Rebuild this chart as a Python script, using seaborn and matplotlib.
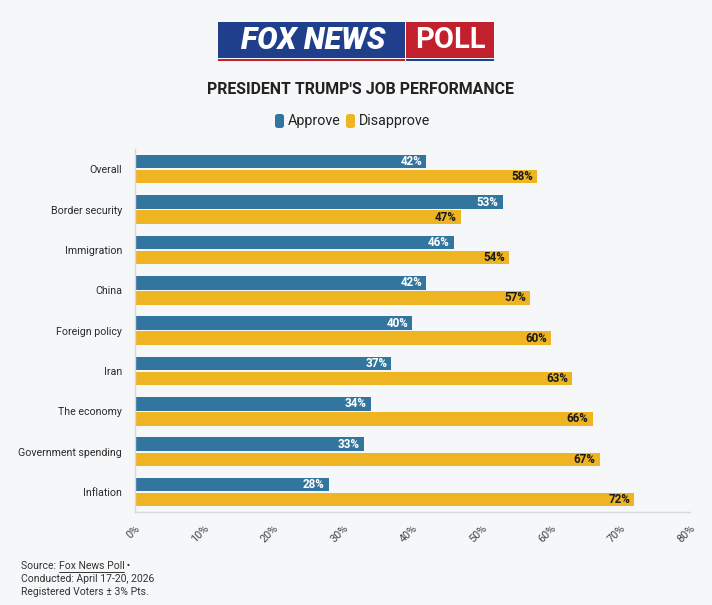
import matplotlib
matplotlib.use("Agg")
import matplotlib.pyplot as plt
from matplotlib.patches import Rectangle, FancyBboxPatch
import seaborn as sns
import pandas as pd

categories = ["Overall", "Border security", "Immigration", "China", "Foreign policy",
              "Iran", "The economy", "Government spending", "Inflation"]
approve = [42, 53, 46, 42, 40, 37, 34, 33, 28]
disapprove = [58, 47, 54, 57, 60, 63, 66, 67, 72]
series = ["Approve", "Disapprove"]
xticks = [0, 10, 20, 30, 40, 50, 60, 70, 80]

BG = "#F6F7F9"
BLUE = "#32769F"
YELLOW = "#EEB421"

df = pd.DataFrame({
    "category": categories * 2,
    "series": [series[0]] * len(categories) + [series[1]] * len(categories),
    "value": approve + disapprove,
})

sns.set_theme(style="white")
plt.rcParams["font.family"] = ["Roboto", "DejaVu Sans"]

W, H = 712, 605
fig = plt.figure(figsize=(7.12, 6.05), dpi=100, facecolor=BG)
ax = fig.add_axes([134.5 / W, 1 - 512.3 / H, (690 - 134.5) / W, (512.3 - 149) / H])
ax.set_facecolor(BG)

sns.barplot(data=df, y="category", x="value", hue="series", order=categories,
            hue_order=series, palette=[BLUE, YELLOW], orient="h", width=0.745,
            gap=0.1, ax=ax, legend=False, saturation=1, linewidth=0)

for cont, col in zip(ax.containers, ["white", "#1a1a1a"]):
    labels = [f"{int(v)}%" for v in cont.datavalues]
    anns = ax.bar_label(cont, labels=labels, padding=-3, color=col, fontsize=8.4,
                        fontweight="bold")
    for a in anns:
        a.set_ha("right")

ax.set_xlim(0, 80)
ax.set_ylim(8.5, -0.5)
ax.set_xticks(xticks)
ax.set_xticklabels([f"{t}%" for t in xticks], rotation=45, ha="right",
                   rotation_mode="anchor", color="#444444", fontsize=7.8)
ax.tick_params(axis="x", length=5, color="#d8d8d8", width=1, pad=3)
ax.tick_params(axis="y", length=6, color="#e2e2e2", width=1, labelsize=7.7,
               labelcolor="#2a2a2a", pad=3)
ax.set_xlabel("")
ax.set_ylabel("")
for s in ["top", "right"]:
    ax.spines[s].set_visible(False)
for s in ["left", "bottom"]:
    ax.spines[s].set_color("#d8d8d8")
    ax.spines[s].set_linewidth(1)

# Logo
def fx(x): return x / W
def fy(y): return 1 - y / H
fig.patches.append(Rectangle((fx(218), fy(58)), fx(187), 36 / H, transform=fig.transFigure,
                             facecolor="#1F3F8C", edgecolor="none"))
fig.patches.append(Rectangle((fx(406), fy(58)), fx(88), 36 / H, transform=fig.transFigure,
                             facecolor="#C3202E", edgecolor="none"))
fig.patches.append(Rectangle((fx(218), fy(61)), fx(187), 2 / H, transform=fig.transFigure,
                             facecolor="#C3202E", edgecolor="none"))
fig.patches.append(Rectangle((fx(406), fy(61)), fx(88), 2 / H, transform=fig.transFigure,
                             facecolor="#1F3F8C", edgecolor="none"))
fig.text(fx(241), fy(40), "FOX NEWS", color="white", fontsize=22, fontweight="heavy",
         style="italic", ha="left", va="center", family=["Roboto", "DejaVu Sans"])
fig.text(fx(450), fy(40), "POLL", color="white", fontsize=21, fontweight="bold",
         ha="center", va="center", family=["Roboto", "DejaVu Sans"])

# Title
fig.text(fx(360), fy(89), "PRESIDENT TRUMP'S JOB PERFORMANCE", ha="center", va="center",
         fontsize=11.4, fontweight="bold", color="#222222")

# Legend
for x0, lab, c in [(275, "Approve", BLUE), (346, "Disapprove", YELLOW)]:
    fig.patches.append(FancyBboxPatch((fx(x0), fy(128)), fx(9), 14 / H,
                                      boxstyle="round,pad=0,rounding_size=0.004",
                                      transform=fig.transFigure, facecolor=c,
                                      edgecolor="none"))
    fig.text(fx(x0 + 13), fy(121), lab, ha="left", va="center", fontsize=10.3,
             color="#222222")

# Footer
t1 = fig.text(fx(21), fy(566), "Source: ", ha="left", va="center", fontsize=7.5, color="#333333")
fig.canvas.draw()
r = fig.canvas.get_renderer()
bb = t1.get_window_extent(r)
t2 = fig.text(bb.x1 / W, fy(566), "Fox News Poll", ha="left", va="center", fontsize=7.5,
              color="#333333")
bb2 = t2.get_window_extent(r)
fig.lines.append(plt.Line2D([bb2.x0 / W, bb2.x1 / W], [fy(571.5), fy(571.5)],
                            transform=fig.transFigure, color="#333333", lw=0.7))
fig.text(bb2.x1 / W, fy(566), " •", ha="left", va="center", fontsize=7.5, color="#333333")
fig.text(fx(21), fy(579), "Conducted: April 17-20, 2026", ha="left", va="center",
         fontsize=7.5, color="#333333")
fig.text(fx(21), fy(592), "Registered Voters ± 3% Pts.", ha="left", va="center",
         fontsize=7.5, color="#333333")

fig.savefig("out.png", dpi=100, facecolor=BG)
